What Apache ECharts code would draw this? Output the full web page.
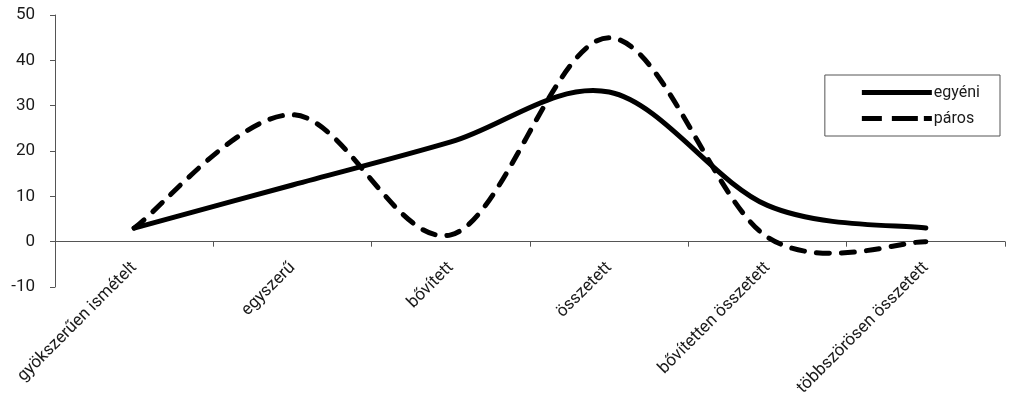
<!DOCTYPE html>
<html>
<head>
<meta charset="utf-8">
<script src="https://cdn.jsdelivr.net/npm/echarts@6/dist/echarts.min.js"></script>
<style>
  html, body { margin: 0; padding: 0; background: #fff; }
  #chart { width: 1024px; height: 395px; }
</style>
</head>
<body>
<div id="chart"></div>
<script>
// Sentence types on the category axis
const categories = [
  'gyökszerűen ismételt',
  'egyszerű',
  'bővített',
  'összetett',
  'bővítetten összetett',
  'többszörösen összetett'
];
// Series values
const egyeni = [3, 12.5, 22, 33, 8, 3];
const paros = [3, 28, 1.5, 45, 1, 0];
// Value axis range
const yMin = -10;
const yMax = 50;
const yStep = 10;

const FONT = "'Roboto', 'Liberation Sans', sans-serif";
const INK = '#1a1a1a';

// Cardinal (Catmull-Rom) spline through the series points, in pixel space
function splinePath(api, values) {
  const pts = values.map((v, i) => api.coord([i, v]));
  let d = 'M' + pts[0][0] + ',' + pts[0][1];
  for (let i = 0; i < pts.length - 1; i++) {
    const p0 = pts[i - 1] || pts[i];
    const p1 = pts[i];
    const p2 = pts[i + 1];
    const p3 = pts[i + 2] || pts[i + 1];
    const c1x = p1[0] + (p2[0] - p0[0]) / 6;
    const c1y = p1[1] + (p2[1] - p0[1]) / 6;
    const c2x = p2[0] - (p3[0] - p1[0]) / 6;
    const c2y = p2[1] - (p3[1] - p1[1]) / 6;
    d += ' C' + c1x + ',' + c1y + ' ' + c2x + ',' + c2y + ' ' + p2[0] + ',' + p2[1];
  }
  return d;
}

function curveSeries(name, values, dash) {
  return {
    name: name,
    type: 'custom',
    coordinateSystem: 'cartesian2d',
    data: values.map((v, i) => [i, v]),
    encode: { x: 0, y: 1 },
    itemStyle: { color: '#000' },
    clip: false,
    renderItem: function (params, api) {
      if (params.dataIndex !== 0) return null;
      return {
        type: 'path',
        shape: { pathData: splinePath(api, values) },
        style: {
          fill: 'none',
          stroke: '#000',
          lineWidth: 5,
          lineDash: dash,
          lineCap: 'round',
          lineJoin: 'round'
        }
      };
    }
  };
}

const chart = echarts.init(document.getElementById('chart'), null, { renderer: 'canvas' });

chart.setOption({
  animation: false,
  backgroundColor: '#ffffff',
  textStyle: { fontFamily: FONT, color: INK },
  grid: { left: 55, right: 19, top: 15, bottom: 108, outerBoundsMode: 'none', containLabel: false },
  legend: {
    orient: 'vertical',
    right: 24,
    top: 75,
    padding: [8, 20, 8, 37],
    borderColor: '#555',
    borderWidth: 1,
    itemWidth: 70,
    itemHeight: 5,
    itemGap: 7,
    textStyle: { fontFamily: FONT, fontSize: 16, color: INK, lineHeight: 19, padding: [0, 0, 0, -3] },
    data: [
      { name: 'egyéni', icon: 'path://M0,0H70V5H0Z', itemStyle: { color: '#000' } },
      { name: 'páros', icon: 'path://M0,0H20V5H0Z M30,0H56V5H30Z M62,0H70V5H62Z', itemStyle: { color: '#000' } }
    ]
  },
  xAxis: {
    type: 'category',
    data: categories,
    boundaryGap: true,
    axisLine: { onZero: true, lineStyle: { color: '#555', width: 1 } },
    axisTick: { show: true, length: 5, lineStyle: { color: '#555' } },
    axisLabel: {
      rotate: 45,
      margin: -22,
      interval: 0,
      fontFamily: FONT,
      fontSize: 17,
      color: INK
    },
    splitLine: { show: false }
  },
  yAxis: {
    type: 'value',
    min: yMin,
    max: yMax,
    interval: yStep,
    axisLine: { show: true, lineStyle: { color: '#555', width: 1 } },
    axisTick: { show: true, length: 5, lineStyle: { color: '#555' } },
    axisLabel: { margin: 20, fontFamily: FONT, fontSize: 17, color: INK },
    splitLine: { show: false }
  },
  series: [
    curveSeries('egyéni', egyeni, null),
    curveSeries('páros', paros, [13, 12])
  ]
});
</script>
</body>
</html>
